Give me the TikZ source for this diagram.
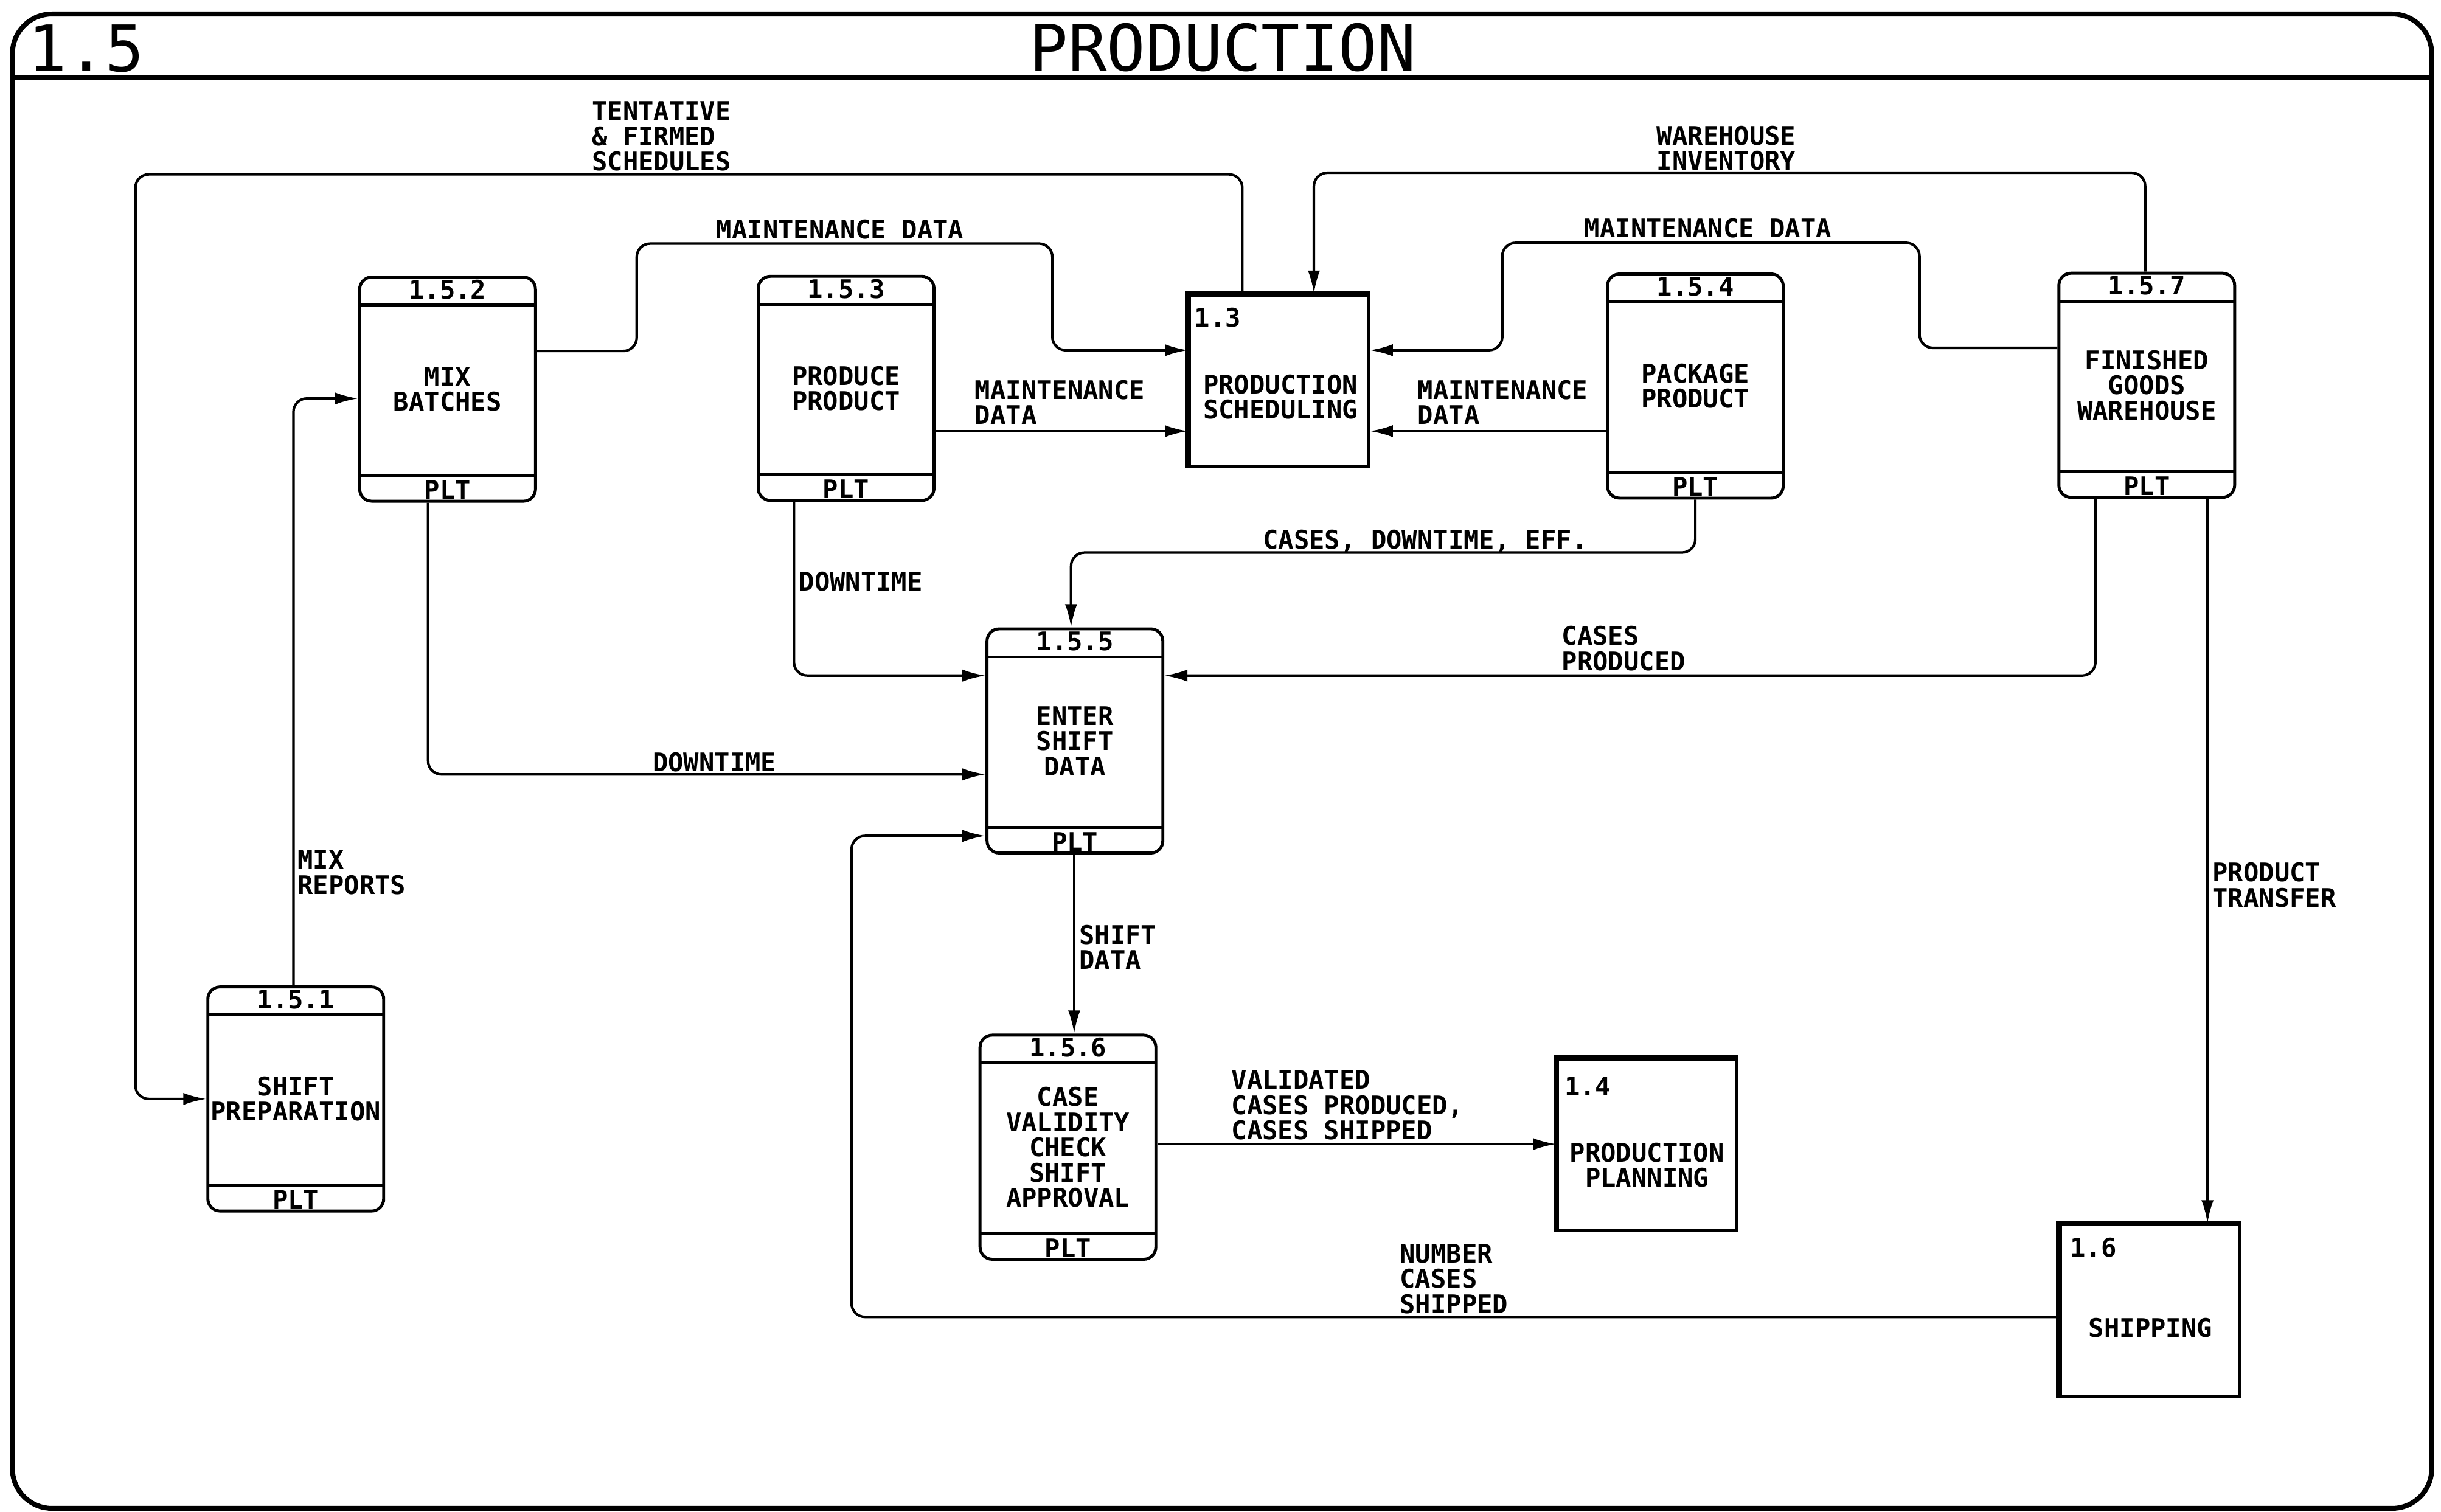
\documentclass[tikz,border=0pt]{standalone}
\usepackage{fontspec}
\setmainfont{DejaVu Sans Mono}
\usetikzlibrary{arrows.meta}

\newcommand\dfdfont{\fontsize{12pt}{11.8pt}\selectfont\bfseries}
\newcommand\titlefont{\fontsize{30pt}{30pt}\selectfont}

\tikzset{
  proc/.style={draw, line width=1.4pt, rounded corners=2mm, minimum width=28.9mm,
    minimum height=36.85mm, inner sep=0pt, align=center, font=\dfdfont,
    path picture={\draw[line width=1.4pt]
      ([yshift=-4.6mm]path picture bounding box.north west) -- ([yshift=-4.6mm]path picture bounding box.north east)
      ([yshift=4.2mm]path picture bounding box.south west) -- ([yshift=4.2mm]path picture bounding box.south east);}},
  extproc/.style={draw, line width=1.4pt, minimum width=29.4mm, minimum height=28.2mm, inner sep=0pt},
  flow/.style={line width=1.2pt, rounded corners=2.2mm, -{Latex[length=3.8mm,width=2mm]}},
  lbl/.style={font=\dfdfont, anchor=north west, inner sep=0pt, align=left},
}

\begin{document}
\begin{tikzpicture}[x=0.2559mm, y=-0.2559mm]
  \useasboundingbox (0,0) rectangle (1568,971);

  % frame and title band
  \draw[line width=2.3pt, rounded corners=6.5mm] (8,9) rectangle (1562,969);
  \draw[line width=2.3pt] (8,50) -- (1562,50);
  \node[font=\titlefont, anchor=base west, inner sep=0pt] (num) at (18,46) {1.5};
  \node[font=\titlefont, anchor=base, inner sep=0pt] (title) at (785.5,45.5) {PRODUCTION};

  % processes
  \node[proc] (p1) at (190,706) {SHIFT\\PREPARATION};
  \node[proc] (p2) at (287.5,250) {MIX\\BATCHES};
  \node[proc] (p3) at (543.5,249.5) {PRODUCE\\PRODUCT};
  \node[proc] (p4) at (1089,248) {PACKAGE\\PRODUCT};
  \node[proc] (p5) at (690.5,476) {ENTER\\SHIFT\\DATA};
  \node[proc] (p6) at (686,737) {CASE\\VALIDITY\\CHECK\\SHIFT\\APPROVAL};
  \node[proc] (p7) at (1379,247.5) {FINISHED\\GOODS\\WAREHOUSE};
  \foreach \p/\n in {p1/1.5.1,p2/1.5.2,p3/1.5.3,p4/1.5.4,p5/1.5.5,p6/1.5.6,p7/1.5.7} {
    \node[font=\dfdfont] (\p-id) at ([yshift=-2.3mm]\p.north) {\n};
    \node[font=\dfdfont] (\p-loc) at ([yshift=2.1mm]\p.south) {PLT};
  }

  % other processes of level 1
  \node[extproc] (e13) at (821.5,244.7) {};
  \node[extproc] (e14) at (1058,735.6) {};
  \node[extproc] (e16) at (1381,842) {};
  \foreach \e in {e13,e14,e16}
    \draw[line width=2.6pt] (\e.south west) -- (\e.north west) -- (\e.north east);
  \node[lbl] (e13-id) at (767,197.5) {1.3};
  \node[font=\dfdfont, align=center] (e13-txt) at (822.5,255) {PRODUCTION\\SCHEDULING};
  \node[lbl] (e14-id) at (1004.7,691.7) {1.4};
  \node[font=\dfdfont, align=center] (e14-txt) at (1058,748.4) {PRODUCTION\\PLANNING};
  \node[lbl] (e16-id) at (1329.5,795) {1.6};
  \node[font=\dfdfont] (e16-txt) at (1381.4,853) {SHIPPING};

  % data flows
  \draw[flow] (e13.north -| 798,0) -- (798,112) -- (87,112) -- (87,706) -- (p1.west |- 0,706);
  \draw[flow] (p7.north -| 1378,0) -- (1378,111) -- (844,111) -- (e13.north -| 844,0);
  \draw[flow] (p2.east |- 0,225.5) -- (409,225.5) -- (409,156.5) -- (676,156.5) -- (676,225) -- (e13.west |- 0,225);
  \draw[flow] (p3.east |- 0,277) -- (e13.west |- 0,277);
  \draw[flow] (p4.west |- 0,277) -- (e13.east |- 0,277);
  \draw[flow] (p7.west |- 0,223.5) -- (1233,223.5) -- (1233,156) -- (965,156) -- (965,225) -- (e13.east |- 0,225);
  \draw[flow] (p4.south) -- (1089,355) -- (688,355) -- (p5.north -| 688,0);
  \draw[flow] (p3.south -| 510,0) -- (510,434) -- (p5.west |- 0,434);
  \draw[flow] (p2.south -| 275,0) -- (275,497.5) -- (p5.west |- 0,497.5);
  \draw[flow] (p7.south -| 1346,0) -- (1346,434) -- (p5.east |- 0,434);
  \draw[flow] (p5.south -| 690,0) -- (p6.north -| 690,0);
  \draw[flow] (p6.east |- 0,735) -- (e14.west |- 0,735);
  \draw[flow] (e16.west |- 0,846) -- (547,846) -- (547,537) -- (p5.west |- 0,537);
  \draw[flow] (p7.south -| 1418,0) -- (e16.north -| 1418,0);
  \draw[flow] (p1.north -| 188.5,0) -- (188.5,256) -- (p2.west |- 0,256);

  % flow labels
  \node[lbl] (l-sched) at (380,65) {TENTATIVE\\\& FIRMED\\SCHEDULES};
  \node[lbl] (l-inv) at (1064,80.6) {WAREHOUSE\\INVENTORY};
  \node[lbl] (l-mnt1) at (460,141) {MAINTENANCE DATA};
  \node[lbl] (l-mnt2) at (1017.5,140) {MAINTENANCE DATA};
  \node[lbl] (l-mnt3) at (626,244) {MAINTENANCE\\DATA};
  \node[lbl] (l-mnt4) at (910.5,244) {MAINTENANCE\\DATA};
  \node[lbl] (l-eff) at (811,340) {CASES, DOWNTIME, EFF.};
  \node[lbl] (l-dt1) at (513,367) {DOWNTIME};
  \node[lbl] (l-cases) at (1003,402) {CASES\\PRODUCED};
  \node[lbl] (l-dt2) at (419,483) {DOWNTIME};
  \node[lbl] (l-mix) at (191,546) {MIX\\REPORTS};
  \node[lbl] (l-shift) at (693,594) {SHIFT\\DATA};
  \node[lbl] (l-valid) at (790.8,687.5) {VALIDATED\\CASES PRODUCED,\\CASES SHIPPED};
  \node[lbl] (l-ship) at (899,799) {NUMBER\\CASES\\SHIPPED};
  \node[lbl] (l-xfer) at (1421,554) {PRODUCT\\TRANSFER};
\end{tikzpicture}
\end{document}
